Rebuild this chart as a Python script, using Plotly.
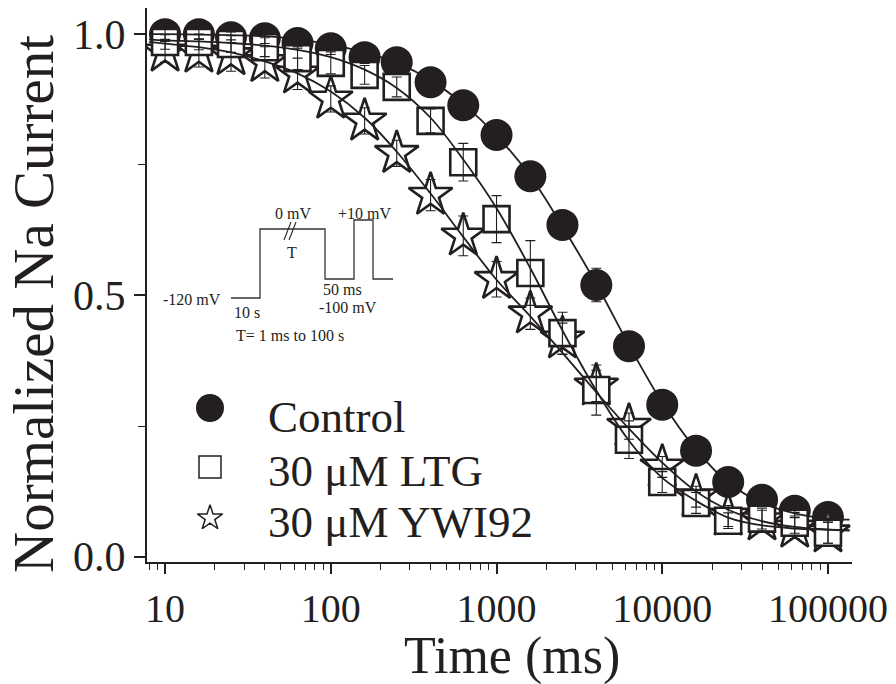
import plotly.graph_objects as go

# ---------------- data ----------------
time_ms = [10, 16, 25, 40, 63, 100, 160, 250, 400, 630, 1000, 1600,
           2500, 4000, 6300, 10000, 16000, 25000, 40000, 63000, 100000]

control = [1.0, 1.0, 0.994, 0.992, 0.983, 0.973, 0.956, 0.946, 0.908, 0.864,
           0.807, 0.728, 0.635, 0.52, 0.403, 0.291, 0.203, 0.143, 0.109, 0.088, 0.076]
control_err = [0.01, 0.01, 0.01, 0.01, 0.01, 0.012, 0.012, 0.012, 0.015, 0.015,
               0.015, 0.02, 0.025, 0.032, 0.02, 0.015, 0.012, 0.01, 0.01, 0.01, 0.01]

ltg = [0.985, 0.985, 0.981, 0.975, 0.954, 0.945, 0.922, 0.899, 0.834, 0.755,
       0.646, 0.543, 0.428, 0.319, 0.224, 0.143, 0.103, 0.069, 0.073, 0.065, 0.046]
ltg_err = [0.014, 0.015, 0.016, 0.018, 0.022, 0.021, 0.018, 0.019, 0.023, 0.036,
           0.045, 0.062, 0.04, 0.048, 0.036, 0.02, 0.02, 0.015, 0.02, 0.02, 0.02]

ywi92 = [0.966, 0.964, 0.959, 0.946, 0.924, 0.876, 0.834, 0.772, 0.692, 0.614,
         0.531, 0.465, 0.417, 0.327, 0.25, 0.172, 0.115, 0.078, 0.069, 0.055, 0.046]
ywi92_err = [0.02, 0.027, 0.03, 0.03, 0.03, 0.025, 0.025, 0.025, 0.03, 0.038,
             0.034, 0.03, 0.03, 0.03, 0.025, 0.02, 0.02, 0.02, 0.02, 0.02, 0.02]

fit_time_ms = [8] + time_ms + [135000]
control_fit = [1.0, 1.0, 0.999, 0.998, 0.996, 0.99, 0.98, 0.965, 0.945, 0.912, 0.866,
               0.806, 0.728, 0.632, 0.522, 0.405, 0.295, 0.205, 0.142, 0.103, 0.083, 0.073, 0.071]
ltg_fit = [0.99, 0.988, 0.986, 0.983, 0.978, 0.97, 0.956, 0.932, 0.897, 0.84, 0.76,
           0.667, 0.552, 0.433, 0.318, 0.222, 0.151, 0.107, 0.075, 0.06, 0.054, 0.052, 0.051]
ywi92_fit = [0.985, 0.982, 0.975, 0.965, 0.948, 0.925, 0.89, 0.84, 0.775, 0.695, 0.612,
             0.53, 0.46, 0.39, 0.315, 0.245, 0.18, 0.125, 0.09, 0.068, 0.057, 0.052, 0.05]

series_names = ["Control", "30 \u03bcM LTG", "30 \u03bcM YWI92"]
x_tick_vals = [10, 100, 1000, 10000, 100000]
x_tick_text = ["10", "100", "1000", "10000", "100000"]

# ---------------- layout geometry ----------------
W, H = 896, 684
L, R, T, B = 147, 44, 8, 122
PW, PH = W - L - R, H - T - B
INK = "#231f20"
FONT = "Liberation Serif"


def px(xp):
    return (xp - L) / PW


def py(yp):
    return (H - B - yp) / PH


fig = go.Figure()

# markers: circles, stars, squares (squares on top)
fig.add_trace(go.Scatter(x=time_ms, y=control, mode="markers", name=series_names[0],
                         marker=dict(symbol="circle", size=32, color=INK,
                                     line=dict(width=0)), showlegend=False))
fig.add_trace(go.Scatter(x=time_ms, y=ywi92, mode="markers", name=series_names[2],
                         marker=dict(symbol="star", size=33, color="white",
                                     line=dict(width=2.6, color=INK)), showlegend=False))
fig.add_trace(go.Scatter(x=time_ms, y=ltg, mode="markers", name=series_names[1],
                         marker=dict(symbol="square", size=26, color="white",
                                     line=dict(width=2.6, color=INK)), showlegend=False))

# fitted curves
for yy in (control_fit, ltg_fit, ywi92_fit):
    fig.add_trace(go.Scatter(x=fit_time_ms, y=yy, mode="lines",
                             line=dict(color=INK, width=1.8, shape="spline", smoothing=1.0),
                             showlegend=False, hoverinfo="skip"))

# error bars on top
for yy, ee in ((control, control_err), (ywi92, ywi92_err), (ltg, ltg_err)):
    fig.add_trace(go.Scatter(x=time_ms, y=yy, mode="markers",
                             marker=dict(size=1, color="rgba(0,0,0,0)"),
                             error_y=dict(type="data", array=ee, visible=True,
                                          color=INK, thickness=1.1, width=5),
                             showlegend=False, hoverinfo="skip"))

# legend symbols on an overlay axis
leg_y = [py(408), py(467), py(518)]
fig.add_trace(go.Scatter(x=[px(210)], y=[leg_y[0]], xaxis="x2", yaxis="y2", mode="markers",
                         marker=dict(symbol="circle", size=28, color=INK), showlegend=False))
fig.add_trace(go.Scatter(x=[px(210)], y=[leg_y[1]], xaxis="x2", yaxis="y2", mode="markers",
                         marker=dict(symbol="square", size=22, color="white",
                                     line=dict(width=1.5, color=INK)), showlegend=False))
fig.add_trace(go.Scatter(x=[px(210)], y=[leg_y[2]], xaxis="x2", yaxis="y2", mode="markers",
                         marker=dict(symbol="star", size=19, color="white",
                                     line=dict(width=1.5, color=INK)), showlegend=False))

annotations = []
for name, yb in zip(series_names, (417, 471, 522)):
    annotations.append(dict(x=px(266), y=py(yb), xref="paper", yref="paper",
                            text=name, showarrow=False, xanchor="left", yanchor="middle",
                            font=dict(family=FONT, size=45, color=INK)))

# axis titles
annotations.append(dict(x=px(33), y=py(304), xref="paper", yref="paper",
                        text="Normalized Na Current", textangle=-90, showarrow=False,
                        xanchor="center", yanchor="middle",
                        font=dict(family=FONT, size=57, color=INK)))
annotations.append(dict(x=px(512), y=py(656), xref="paper", yref="paper",
                        text="Time (ms)", showarrow=False, xanchor="center", yanchor="middle",
                        font=dict(family=FONT, size=52, color=INK)))

# inset protocol diagram
inset_pts = [(231, 298), (260, 298), (260, 229), (325, 229), (325, 279), (354, 279),
             (354, 220), (373, 220), (373, 279), (393, 279)]
path = "M " + " L ".join(f"{px(a):.5f},{py(b):.5f}" for a, b in inset_pts)
shapes = [dict(type="path", path=path, xref="paper", yref="paper",
               line=dict(color="#333333", width=1.3))]
for (x0, y0, x1, y1) in ((284, 240, 291, 222), (289, 240, 296, 222)):
    shapes.append(dict(type="line", x0=px(x0), y0=py(y0), x1=px(x1), y1=py(y1),
                       xref="paper", yref="paper", line=dict(color="#333333", width=1.2)))

inset_text = [("0 mV", 293, 213), ("T", 292, 253), ("+10 mV", 364, 213),
              ("50 ms", 342, 289), ("-100 mV", 348, 307), ("-120 mV", 192, 299),
              ("10 s", 247, 312), ("T= 1 ms to 100 s", 290, 335)]
for txt, xx, yy in inset_text:
    annotations.append(dict(x=px(xx), y=py(yy), xref="paper", yref="paper", text=txt,
                            showarrow=False, xanchor="center", yanchor="middle",
                            font=dict(family=FONT, size=16, color=INK)))

fig.update_layout(
    width=W, height=H, margin=dict(l=L, r=R, t=T, b=B, pad=0),
    paper_bgcolor="white", plot_bgcolor="white",
    showlegend=False,
    font=dict(family=FONT, color=INK),
    xaxis=dict(type="log", range=[0.891, 5.145], showgrid=False, zeroline=False,
               showline=True, linecolor=INK, linewidth=2,
               ticks="outside", ticklen=10, tickwidth=1.6, tickcolor=INK,
               tickmode="array", tickvals=x_tick_vals, ticktext=x_tick_text,
               tickfont=dict(family=FONT, size=40, color=INK),
               minor=dict(ticks="outside", ticklen=6, tickwidth=1.4, tickcolor=INK,
                          dtick="D1", showgrid=False)),
    yaxis=dict(range=[-0.01, 1.05], showgrid=False, zeroline=False,
               showline=True, linecolor=INK, linewidth=2,
               ticks="outside", ticklen=11, tickwidth=1.6, tickcolor=INK,
               tickmode="array", tickvals=[0.0, 0.5, 1.0], ticktext=["0.0", "0.5", "1.0"],
               tickfont=dict(family=FONT, size=42, color=INK),
               minor=dict(ticks="outside", ticklen=7, tickwidth=1.4, tickcolor=INK,
                          tickvals=[0.25, 0.75], showgrid=False)),
    xaxis2=dict(overlaying="x", range=[0, 1], visible=False, anchor="y2"),
    yaxis2=dict(overlaying="y", range=[0, 1], visible=False, anchor="x2"),
    annotations=annotations,
    shapes=shapes,
)

fig.write_html("out.html")
